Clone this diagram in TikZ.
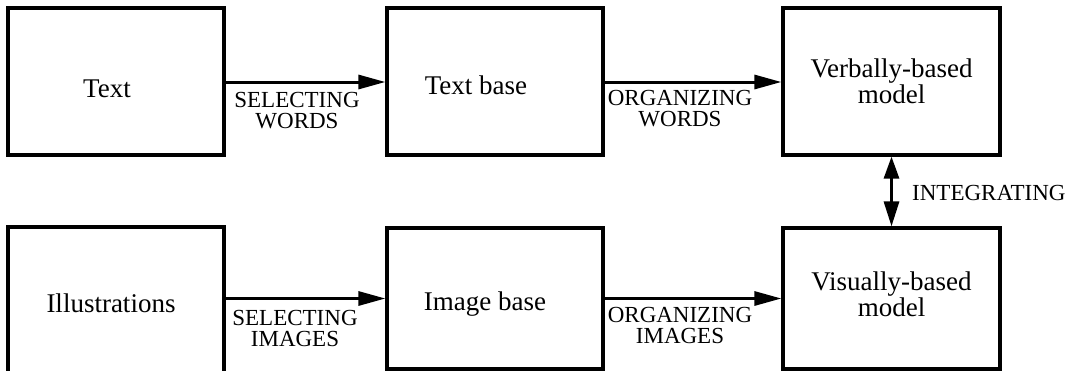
\documentclass[tikz,border=0pt]{standalone}
\usepackage{fontspec}
\setmainfont{Liberation Serif}
\usetikzlibrary{arrows.meta}
\begin{document}
\begin{tikzpicture}[x=1pt,y=-1pt,
  box/.style={draw, line width=3.2pt, rectangle, inner sep=0pt},
  main/.style={font=\fontsize{27}{23.5}\selectfont, inner sep=0pt, align=center},
  lbl/.style={font=\fontsize{23}{21.5}\selectfont, inner sep=0pt, align=center},
  flow/.style={line width=3pt, -{Triangle[length=27pt,width=14pt]}},
  twoway/.style={line width=3pt,
    {Triangle[length=22pt,width=15pt]}-{Triangle[length=25pt,width=15pt]}}]
  \fill[white] (0,0) rectangle (1082,370);
  \useasboundingbox (0,0) rectangle (1082,370);

  % top row: verbal channel
  \node[box, minimum width=216pt, minimum height=147pt] (t)  at (116,81.5) {};
  \node[box, minimum width=216pt, minimum height=147pt] (tb) at (495,81.5) {};
  \node[box, minimum width=217pt, minimum height=147pt] (vb) at (891.5,81.5) {};

  % bottom row: pictorial channel
  \node[box, minimum width=216pt, minimum height=146pt] (il)  at (116,300) {};
  \node[box, minimum width=216pt, minimum height=141pt] (ib)  at (495,298.5) {};
  \node[box, minimum width=217pt, minimum height=141pt] (vis) at (891.5,298.5) {};

  % box texts
  \node[main, anchor=base] (t-txt)  at (107,97)  {Text};
  \node[main, anchor=base] (tb-txt) at (476,94)  {Text base};
  \node[main, anchor=north] (vb-txt) at (891.5,59) {Verbally-based\\model};
  \node[main, anchor=base] (il-txt) at (111,312) {Illustrations};
  \node[main, anchor=base] (ib-txt) at (485,310) {Image base};
  \node[main, anchor=north] (vis-txt) at (891.5,272) {Visually-based\\model};

  % connectors
  \draw[flow] (t.east |- 0,82) -- (tb.west |- 0,82);
  \draw[flow] (tb.east |- 0,82) -- (vb.west |- 0,82);
  \draw[flow] (il.east |- ib.west) -- (ib.west);
  \draw[flow] (ib.east) -- (vis.west);
  \draw[twoway] (vb.south) -- (vis.north);

  % process labels
  \node[lbl, anchor=north] (sw) at (297,92)  {SELECTING\\WORDS};
  \node[lbl, anchor=north] (ow) at (680,90)  {ORGANIZING\\WORDS};
  \node[lbl, anchor=north] (si) at (295,310) {SELECTING\\IMAGES};
  \node[lbl, anchor=north] (oi) at (680,307) {ORGANIZING\\IMAGES};
  \node[lbl, anchor=base west] (ig) at (912,200) {INTEGRATING};
\end{tikzpicture}
\end{document}
